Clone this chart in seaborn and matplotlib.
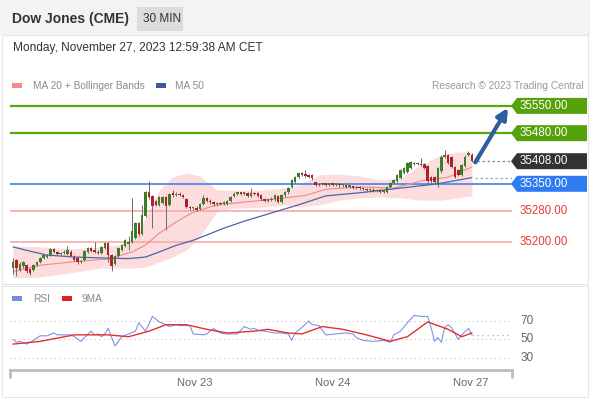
import numpy as np
import matplotlib
matplotlib.use("Agg")
import matplotlib.pyplot as plt
from matplotlib.patches import Polygon, Rectangle
import seaborn as sns

# ---------------- data ----------------
opens = [35133, 35154, 35129, 35138, 35141, 35130, 35128, 35141, 35150, 35160,
         35163, 35168, 35183, 35175, 35170, 35172, 35170, 35176, 35163, 35160,
         35150, 35155, 35175, 35186, 35178, 35176, 35172, 35185, 35198, 35168,
         35145, 35165, 35180, 35190, 35196, 35200, 35210, 35250, 35222, 35268,
         35328, 35318, 35305, 35295, 35300, 35316, 35296, 35326, 35322, 35325,
         35322, 35310, 35290, 35287, 35289, 35285, 35298, 35313, 35307, 35302,
         35297, 35299, 35298, 35298, 35305, 35318, 35325, 35327, 35325, 35326,
         35318, 35326, 35326, 35320, 35310, 35307, 35308, 35310, 35318, 35303,
         35320, 35328, 35342, 35355, 35368, 35378, 35373, 35372, 35372, 35355,
         35347, 35349, 35350, 35348, 35350, 35348, 35350, 35346, 35347, 35343,
         35345, 35340, 35342, 35338, 35336, 35333, 35335, 35332, 35334, 35330,
         35330, 35342, 35352, 35357, 35365, 35378, 35380, 35391, 35403, 35400,
         35402, 35400, 35395, 35368, 35368, 35350, 35382, 35420, 35424, 35418,
         35393, 35386, 35373, 35395, 35424, 35425]
closes = [35150, 35133, 35145, 35148, 35125, 35120, 35141, 35150, 35160, 35166,
          35168, 35183, 35175, 35170, 35172, 35176, 35181, 35165, 35155, 35148,
          35152, 35178, 35186, 35178, 35176, 35172, 35188, 35198, 35168, 35140,
          35165, 35185, 35193, 35205, 35200, 35230, 35250, 35220, 35270, 35328,
          35315, 35293, 35295, 35315, 35316, 35293, 35324, 35320, 35325, 35322,
          35316, 35290, 35287, 35288, 35284, 35298, 35313, 35307, 35302, 35297,
          35299, 35298, 35302, 35305, 35316, 35325, 35327, 35325, 35326, 35318,
          35326, 35324, 35318, 35310, 35307, 35308, 35312, 35320, 35303, 35320,
          35328, 35340, 35360, 35368, 35378, 35373, 35371, 35368, 35364, 35347,
          35349, 35350, 35348, 35350, 35348, 35350, 35346, 35347, 35343, 35345,
          35340, 35342, 35338, 35336, 35333, 35335, 35332, 35334, 35330, 35333,
          35342, 35352, 35360, 35373, 35386, 35391, 35403, 35406, 35400, 35402,
          35399, 35390, 35356, 35356, 35355, 35391, 35420, 35424, 35403, 35393,
          35368, 35373, 35398, 35420, 35428, 35408]
highs = [35160, 35158, 35150, 35152, 35144, 35133, 35144, 35153, 35163, 35169,
         35171, 35186, 35186, 35177, 35175, 35179, 35190, 35179, 35166, 35162,
         35155, 35181, 35189, 35189, 35200, 35179, 35191, 35201, 35201, 35171,
         35168, 35188, 35196, 35208, 35215, 35313, 35253, 35253, 35296, 35331,
         35357, 35321, 35308, 35318, 35319, 35319, 35327, 35334, 35328, 35328,
         35325, 35313, 35293, 35291, 35292, 35301, 35320, 35316, 35310, 35305,
         35302, 35302, 35305, 35308, 35319, 35328, 35330, 35330, 35329, 35329,
         35339, 35329, 35329, 35323, 35313, 35311, 35315, 35323, 35321, 35323,
         35331, 35343, 35363, 35371, 35381, 35381, 35386, 35375, 35375, 35358,
         35352, 35353, 35353, 35353, 35353, 35353, 35353, 35350, 35350, 35348,
         35348, 35345, 35345, 35341, 35339, 35338, 35338, 35337, 35337, 35336,
         35345, 35355, 35363, 35376, 35389, 35394, 35406, 35409, 35406, 35405,
         35416, 35403, 35398, 35371, 35371, 35394, 35423, 35437, 35427, 35421,
         35396, 35389, 35401, 35423, 35434, 35430]
lows = [35118, 35112, 35125, 35134, 35120, 35115, 35125, 35138, 35147, 35157,
        35160, 35165, 35172, 35167, 35167, 35169, 35167, 35162, 35152, 35145,
        35147, 35152, 35172, 35175, 35173, 35169, 35169, 35182, 35150, 35125,
        35142, 35162, 35177, 35187, 35180, 35197, 35207, 35217, 35219, 35265,
        35312, 35236, 35292, 35292, 35297, 35231, 35293, 35317, 35319, 35319,
        35313, 35287, 35284, 35284, 35281, 35282, 35295, 35304, 35299, 35294,
        35294, 35295, 35295, 35295, 35302, 35315, 35322, 35322, 35322, 35315,
        35315, 35321, 35315, 35307, 35304, 35304, 35305, 35307, 35300, 35300,
        35317, 35325, 35339, 35352, 35365, 35370, 35368, 35365, 35361, 35344,
        35344, 35346, 35345, 35345, 35345, 35345, 35343, 35343, 35340, 35340,
        35337, 35337, 35335, 35333, 35330, 35330, 35329, 35329, 35327, 35326,
        35327, 35339, 35349, 35354, 35362, 35375, 35377, 35388, 35397, 35397,
        35396, 35387, 35353, 35353, 35352, 35342, 35379, 35417, 35400, 35390,
        35365, 35370, 35370, 35392, 35421, 35405]

# moving averages / bands (bar index, value)
ma50_idx = [0, 5, 10, 18, 28, 34, 39, 43, 48, 53, 58, 62, 68, 76, 84, 92, 102, 112, 125, 135]
ma50_val = [35188, 35177, 35167, 35162, 35159, 35158, 35162, 35175, 35192, 35205,
            35222, 35236, 35254, 35275, 35296, 35319, 35327, 35337, 35350, 35366]
ma20_idx = [0, 8, 18, 28, 35, 39, 43, 48, 53, 60, 68, 79, 86, 92, 102, 112, 120, 128, 135]
ma20_val = [35125, 35141, 35150, 35157, 35175, 35193, 35223, 35252, 35277, 35296,
            35303, 35313, 35320, 35336, 35342, 35339, 35357, 35367, 35393]
bb_idx = [0, 8, 18, 26, 31, 36, 39, 43, 47, 51, 55, 60, 65, 73, 80, 84, 90, 96,
          102, 108, 114, 120, 126, 131, 135]
bb_upper = [35190, 35188, 35183, 35188, 35193, 35211, 35265, 35334, 35368, 35378,
            35370, 35334, 35334, 35334, 35339, 35347, 35373, 35375, 35370, 35360,
            35365, 35398, 35424, 35432, 35432]
bb_lower = [35108, 35111, 35123, 35134, 35134, 35134, 35136, 35149, 35162, 35180,
            35216, 35278, 35288, 35290, 35296, 35290, 35296, 35308, 35314, 35316,
            35314, 35308, 35308, 35314, 35319]

# RSI panel
rsi_idx = [0, 1, 2, 4, 6, 8, 10, 12, 13, 15, 17, 18, 20, 21, 23, 24, 25, 26, 27, 28,
           29, 30, 32, 34, 36, 37, 39, 41, 43, 45, 46, 48, 49, 52, 53, 56, 57, 59, 61, 63,
           66, 68, 70, 71, 72, 74, 77, 79, 81, 82, 83, 85, 87, 88, 90, 92, 95, 98, 100, 101,
           103, 106, 109, 111, 112, 114, 116, 118, 120, 122, 123, 124, 125, 126, 127, 128,
           129, 131, 132, 134, 135]
rsi_val = [50, 47, 48, 45, 49, 54, 54, 57, 55, 55, 55, 53, 48, 52, 59, 55, 56, 53, 56, 62,
           52, 43, 53, 56, 59, 68, 59, 75, 69, 66, 64, 66, 65, 65, 56, 55, 56, 62, 57, 56,
           56, 64, 61, 62, 60, 59, 57, 57, 56, 49, 57, 63, 70, 66, 65, 55, 56, 57, 56, 52,
           49, 48, 49, 47, 55, 59, 68, 76, 75, 75, 63, 48, 52, 47, 63, 66,
           63, 50, 55, 62, 55]
rsi_ma_idx = [0, 8, 18, 28, 34, 40, 45, 51, 57, 63, 71, 75, 81, 85, 91, 97, 104,
              111, 116, 122, 128, 132, 135]
rsi_ma_val = [45, 48, 55, 55, 53, 59, 66, 66, 61, 57, 59, 61, 57, 56, 64, 61, 55,
              48, 53, 69, 61, 53, 57]

date_ticks = [53.5, 94, 134.6]
date_labels = ["Nov 23", "Nov 24", "Nov 27"]

green_levels = [35550, 35480]
last_price = 35408
blue_level = 35350
red_levels = [35280, 35200]
rsi_levels = [70, 50, 30]

# ---------------- figure ----------------
sns.set_theme(style="white")
plt.rcParams["font.family"] = ["Liberation Sans", "DejaVu Sans"]

W, H = 590, 400
fig = plt.figure(figsize=(W / 100, H / 100), dpi=100)


def fx(px):
    return px / W


def fy(py):
    return 1 - py / H


# header band and panel frames
fig.add_artist(Rectangle((0, fy(35)), 1, 35 / H, transform=fig.transFigure,
                         facecolor="#f3f3f3", edgecolor="none", zorder=0))
fig.add_artist(Rectangle((fx(137), fy(31)), 46 / W, 24 / H, transform=fig.transFigure,
                         facecolor="#dcdcdc", edgecolor="none", zorder=1))
fig.add_artist(Rectangle((fx(2), fy(284)), 586 / W, 249 / H, transform=fig.transFigure,
                         facecolor="none", edgecolor="#e6e6e6", lw=0.8))
fig.add_artist(Rectangle((fx(2), fy(397)), 586 / W, 111 / H, transform=fig.transFigure,
                         facecolor="none", edgecolor="#e6e6e6", lw=0.8))

fig.text(fx(12), fy(19), "Dow Jones (CME)", fontsize=10, fontweight="bold",
         color="#333333", va="center")
fig.text(fx(143), fy(19), "30 MIN", fontsize=8.5, color="#333333", va="center")
fig.text(fx(13), fy(48), "Monday, November 27, 2023 12:59:38 AM CET", fontsize=8.6,
         color="#333333", va="center")

# legends
fig.add_artist(Rectangle((fx(12), fy(88)), 10 / W, 5 / H, transform=fig.transFigure,
                         facecolor="#f28b8b", edgecolor="none"))
fig.text(fx(33), fy(86), "MA 20 + Bollinger Bands", fontsize=7.3, color="#8a8a8a", va="center")
fig.add_artist(Rectangle((fx(156), fy(88)), 10 / W, 5 / H, transform=fig.transFigure,
                         facecolor="#3b5a9a", edgecolor="none"))
fig.text(fx(175), fy(86), "MA 50", fontsize=7.3, color="#8a8a8a", va="center")
fig.text(fx(584), fy(86), "Research \u00a9 2023 Trading Central", fontsize=7.3,
         color="#9a9a9a", va="center", ha="right")

fig.add_artist(Rectangle((fx(12), fy(301)), 10 / W, 5 / H, transform=fig.transFigure,
                         facecolor="#6f8fe3", edgecolor="none"))
fig.text(fx(33), fy(299), "RSI", fontsize=7.3, color="#8a8a8a", va="center")
fig.add_artist(Rectangle((fx(62), fy(301)), 10 / W, 5 / H, transform=fig.transFigure,
                         facecolor="#e62020", edgecolor="none"))
fig.text(fx(82), fy(299), "9MA", fontsize=7.3, color="#8a8a8a", va="center")

# ---------------- price panel ----------------
ax = fig.add_axes([fx(10), fy(280), 502 / W, 185 / H])
ax.set_xlim(-0.9, 146.8)
ax.set_ylim(35103, 35578)
ax.axis("off")

ax.fill_between(bb_idx, bb_lower, bb_upper, color="#fcdcdc", lw=0, zorder=1)

for lv in green_levels:
    ax.axhline(lv, color="#5aa80e", lw=1.6, zorder=2)
ax.axhline(blue_level, color="#5d8fec", lw=1.4, zorder=2)
for lv in red_levels:
    ax.axhline(lv, color="#f5a9a9", lw=1.2, zorder=2)

sns.lineplot(x=ma20_idx, y=ma20_val, ax=ax, color="#ef8a8a", lw=0.8, zorder=3)
sns.lineplot(x=ma50_idx, y=ma50_val, ax=ax, color="#4a66a8", lw=0.9, zorder=3)

xs = np.arange(len(closes))
o = np.array(opens)
c = np.array(closes)
col = np.where(c >= o, "#3a7f28", "#b0202a")
ax.vlines(xs, lows, highs, colors="#6a6a6a", lw=0.7, zorder=4)
ax.bar(xs, np.maximum(np.abs(c - o), 3), bottom=np.minimum(o, c), width=0.74,
       color=col, lw=0, zorder=5)

n = len(closes)
ax.hlines(last_price, n + 0.5, 146.8, colors="#888888", lw=0.9, linestyles=(0, (2, 2)), zorder=2)
ax.hlines(ma50_val[-1], n, 146.8, colors="#aaaaaa", lw=0.9, linestyles=(0, (2, 2)), zorder=2)

ax.annotate("", xy=(145.6, 35545), xytext=(136, 35405),
            arrowprops=dict(arrowstyle="-|>", color="#2d5e9f", lw=3, mutation_scale=16,
                            shrinkA=0, shrinkB=0),
            annotation_clip=False, zorder=6)

# level tags on the right
fig.canvas.draw()


def price_to_py(price):
    disp = ax.transData.transform((0, price))
    return H - disp[1]


def tag(price, face):
    yc = price_to_py(price)
    pts = [(fx(511), fy(yc)), (fx(517), fy(yc - 8)), (fx(587), fy(yc - 8)),
           (fx(587), fy(yc + 8)), (fx(517), fy(yc + 8))]
    fig.add_artist(Polygon(pts, closed=True, transform=fig.transFigure,
                           facecolor=face, edgecolor="none", zorder=5))
    fig.text(fx(520), fy(yc), f"{price:.2f}", fontsize=8.3, color="white",
             va="center", zorder=6)


for lv in green_levels:
    tag(lv, "#56a20c")
tag(last_price, "#333333")
tag(blue_level, "#2f7cf0")
for lv in red_levels:
    fig.text(fx(520), fy(price_to_py(lv)), f"{lv:.2f}", fontsize=8.3, color="#e23b3b",
             va="center")

# ---------------- RSI panel ----------------
ax2 = fig.add_axes([fx(10), fy(370), 502 / W, 65 / H])
ax2.set_xlim(-0.9, 146.8)
ax2.set_ylim(17, 87.3)
for s in ["top", "left", "right"]:
    ax2.spines[s].set_visible(False)
ax2.spines["bottom"].set_color("#bdbdbd")
ax2.spines["bottom"].set_linewidth(2)
ax2.set_yticks([])
for xe in [0, 1]:
    ax2.plot([xe, xe], [0, -0.1], transform=ax2.transAxes, color="#bdbdbd", lw=2,
             clip_on=False)

for lv in rsi_levels:
    ax2.axhline(lv, color="#c4c4c4", lw=0.8, linestyle=(0, (1, 3)), zorder=1)
    ax2.text(1.016, lv, str(lv), transform=ax2.get_yaxis_transform(), fontsize=8.5,
             color="#666666", va="center")
ax2.hlines(rsi_val[-1], rsi_idx[-1], 146.8, colors="#9aaee8", lw=0.9,
           linestyles=(0, (1, 3)), zorder=1)

sns.lineplot(x=rsi_idx, y=rsi_val, ax=ax2, color="#7c95e3", lw=0.8, zorder=3)
sns.lineplot(x=rsi_ma_idx, y=rsi_ma_val, ax=ax2, color="#e23030", lw=1.0, zorder=4)

ax2.set_xticks(date_ticks)
ax2.set_xticklabels(date_labels, fontsize=8, color="#666666")
ax2.tick_params(axis="x", length=0, pad=6)
ax2.set_xlabel("")
ax2.set_ylabel("")

fig.savefig("out.png", dpi=100)
